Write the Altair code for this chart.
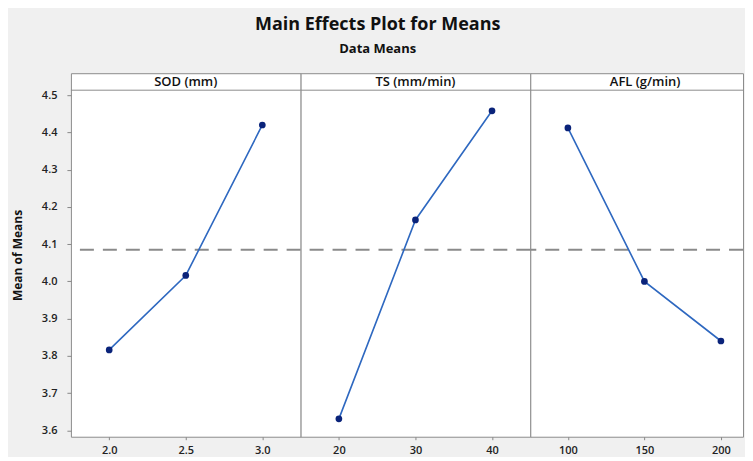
import altair as alt
import pandas as pd

factors = ["SOD (mm)", "TS (mm/min)", "AFL (g/min)"]
levels = [["2.0", "2.5", "3.0"], ["20", "30", "40"], ["100", "150", "200"]]
means = [[3.816, 4.016, 4.420], [3.631, 4.165, 4.458], [4.412, 4.000, 3.840]]
grand_mean = [4.085]
y_ticks = [3.6, 3.7, 3.8, 3.9, 4.0, 4.1, 4.2, 4.3, 4.4, 4.5]

WIDTHS = [230, 230, 213]
H = 364
FONT = "Open Sans"
y_scale = alt.Scale(domain=[3.583, 4.559], nice=False, zero=False)


def panel(i):
    W = WIDTHS[i]
    df = pd.DataFrame({"level": levels[i], "mean": means[i]})
    if i == 2:
        xscale = alt.Scale(type="point", padding=0.39, align=0.63)
    else:
        xscale = alt.Scale(type="point", padding=0.5)
    x = alt.X("level:O", sort=levels[i], scale=xscale,
              axis=alt.Axis(title=None, labelAngle=0, domain=False, tickSize=3,
                            tickColor="#888888", labelPadding=5, labelFontSize=11,
                            labelFont=FONT, labelFontWeight=600, labelColor="#222222"))
    if i == 0:
        yaxis = alt.Axis(title="Mean of Means", values=y_ticks, format=".1f", domain=False,
                         grid=False, tickSize=4, tickColor="#888888", labelPadding=10,
                         labelFontSize=11, labelFont=FONT, labelFontWeight=600,
                         labelColor="#222222", titleFont=FONT, titleFontSize=12,
                         titleFontWeight="bold", titleColor="#111111", titlePadding=17)
    else:
        yaxis = None
    y = alt.Y("mean:Q", scale=y_scale, axis=yaxis)

    base = alt.Chart(df)
    line = base.mark_line(color="#2e68c0", strokeWidth=1.6).encode(x=x, y=y)
    pts = base.mark_point(filled=True, size=45, color="#0a237a", opacity=1).encode(x=x, y=y)
    ref = alt.Chart(pd.DataFrame({"mean": grand_mean})).mark_rule(
        color="#8a8a8a", strokeWidth=2, strokeDash=[14, 9]).encode(y=y)
    strip_df = pd.DataFrame({"name": [factors[i]]})
    strip_line = alt.Chart(strip_df).mark_rule(color="#8c8c8c", strokeWidth=1).encode(
        x=alt.value(0), x2=alt.value(W), y=alt.value(17))
    cx = 115 if i == 2 else W / 2
    strip_text = alt.Chart(strip_df).mark_text(
        font=FONT, fontSize=13, fontWeight=600, color="#111111", baseline="middle",
        align="center").encode(text="name:N", x=alt.value(cx), y=alt.value(8.5))
    return alt.layer(ref, line, pts, strip_line, strip_text).properties(width=W, height=H)


chart = alt.hconcat(panel(0), panel(1), panel(2), spacing=0, bounds="flush").properties(
    title=alt.TitleParams(
        text="Main Effects Plot for Means", subtitle="Data Means",
        font=FONT, fontSize=18, fontWeight="bold", color="#111111",
        subtitleFont=FONT, subtitleFontSize=13, subtitleFontWeight="bold",
        subtitleColor="#111111", subtitlePadding=9, anchor="middle", offset=17,
    ),
    padding={"left": 2, "top": 7, "right": 0, "bottom": 0},
).configure(background="#f0f0f0").configure_view(
    stroke="#8c8c8c", strokeWidth=1, fill="white"
)

chart.save("out.html", embed_options={"renderer": "svg", "actions": False})
